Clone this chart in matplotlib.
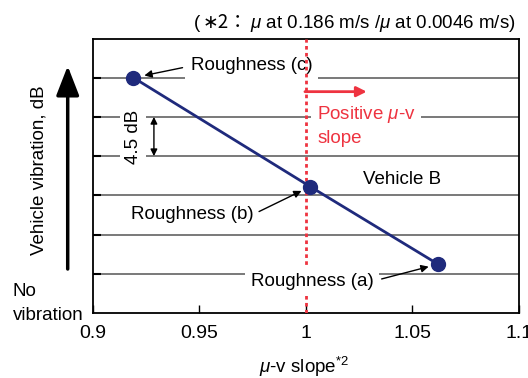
import matplotlib
matplotlib.use("Agg")
import matplotlib.pyplot as plt
from matplotlib.offsetbox import TextArea, HPacker, AnnotationBbox

# ---- data ----
labels = ["Roughness (a)", "Roughness (b)", "Roughness (c)"]
mu_v_slope = [1.062, 1.002, 0.919]
vibration_db = [5.6, 14.5, 27.0]
x_ticks = [0.9, 0.95, 1.0, 1.05, 1.1]
x_tick_labels = ["0.9", "0.95", "1", "1.05", "1.1"]
grid_step_db = 4.5
n_grid = 6

plt.rcParams["font.family"] = ["Liberation Sans", "DejaVu Sans"]
plt.rcParams["mathtext.fontset"] = "custom"
plt.rcParams["mathtext.rm"] = "Liberation Sans"
plt.rcParams["mathtext.it"] = "Liberation Sans:italic"
plt.rcParams["mathtext.bf"] = "Liberation Sans:bold"

FS = 13.5
W, H = 528, 378
fig = plt.figure(figsize=(W / 100, H / 100), dpi=100)
ax = fig.add_axes([93 / W, (H - 313) / H, (519 - 93) / W, (313 - 38.5) / H])

NAVY = "#1f2a7c"
RED = "#ee3340"
GRIDC = "#555555"

ax.set_xlim(0.9, 1.1)
ax.set_ylim(0, grid_step_db * (n_grid + 1))
ax.set_xticks(x_ticks)
ax.set_xticklabels(x_tick_labels, fontsize=14)
yt = [grid_step_db * (i + 1) for i in range(n_grid)]
ax.set_yticks(yt)
ax.set_yticklabels([])
ax.tick_params(axis="x", direction="in", length=6, width=1, pad=9, colors="black")
ax.tick_params(axis="y", direction="in", length=6, width=1.5, colors="black")
for s in ax.spines.values():
    s.set_linewidth(1.3)
for y in yt:
    ax.axhline(y, color=GRIDC, lw=1.1, zorder=0.5)

# red dotted line at slope 1
ax.axvline(1.0, color=RED, lw=2, linestyle=(0, (1.3, 1.2)), zorder=4)

# series
ax.plot(mu_v_slope, vibration_db, color=NAVY, lw=2, marker="o", ms=10,
        markerfacecolor=NAVY, markeredgecolor=NAVY, zorder=6)

bb = dict(boxstyle="square,pad=0.3", fc="white", ec="none")
arr = dict(arrowstyle="-|>", color="black", lw=1, mutation_scale=11, shrinkA=2)

# Roughness (c)
ax.annotate(labels[2], xy=(mu_v_slope[2], vibration_db[2]), xytext=(0.9745, 28.35),
            fontsize=FS, ha="center", va="center", bbox=bb, zorder=3,
            arrowprops=dict(arr, shrinkB=8, relpos=(0, 0.5)))
# Roughness (b)
ax.annotate(labels[1], xy=(mu_v_slope[1], vibration_db[1]), xytext=(0.9467, 11.25),
            fontsize=FS, ha="center", va="center", zorder=3,
            arrowprops=dict(arr, shrinkB=7, relpos=(1, 0.55)))
# Roughness (a)
ax.annotate(labels[0], xy=(mu_v_slope[0], vibration_db[0]), xytext=(1.0028, 3.56),
            fontsize=FS, ha="center", va="center", bbox=bb, zorder=5,
            arrowprops=dict(arr, shrinkB=7, relpos=(1, 0.55)))

ax.text(1.0453, 15.27, "Vehicle B", fontsize=FS, ha="center", va="center", zorder=3)

# positive slope annotation
ax.text(1.0052, 22.73, r"Positive $\mu$-v", color=RED, fontsize=FS, ha="left",
        va="center", zorder=3, bbox=dict(boxstyle="square,pad=0.3", fc="white", ec="none"))
ax.text(1.0052, 20.06, "slope", color=RED, fontsize=FS, ha="left", va="center", zorder=3)
ax.annotate("", xy=(1.0285, 25.4), xytext=(0.9995, 25.4),
            arrowprops=dict(arrowstyle="-|>", color=RED, lw=2, mutation_scale=15,
                            shrinkA=0, shrinkB=0), zorder=4)

# 4.5 dB marker
ax.text(0.9188, 20.2, "4.5 dB", rotation=90, fontsize=FS, ha="center", va="center",
        zorder=3, bbox=dict(boxstyle="square,pad=0.25", fc="white", ec="none"))
ax.annotate("", xy=(0.9286, grid_step_db * 5), xytext=(0.9286, grid_step_db * 4),
            arrowprops=dict(arrowstyle="<|-|>", color="black", lw=1, mutation_scale=10,
                            shrinkA=0, shrinkB=0), zorder=3)

# left outside annotations
fig.text(39 / W, 1 - 170 / H, "Vehicle vibration, dB", rotation=90, fontsize=FS,
         ha="center", va="center")
ax.annotate("", xy=(67.7 / W, 1 - 66 / H), xytext=(67.7 / W, 1 - 269 / H),
            xycoords="figure fraction", textcoords="figure fraction",
            arrowprops=dict(arrowstyle="-|>,head_length=0.9,head_width=0.35", color="black",
                            lw=2.5, mutation_scale=20, shrinkA=0, shrinkB=0),
            annotation_clip=False)
fig.text(13 / W, 1 - 292 / H, "No", fontsize=FS, ha="left", va="center")
fig.text(13 / W, 1 - 315 / H, "vibration", fontsize=FS, ha="left", va="center")

# x label
fig.text(304 / W, 1 - 367 / H, r"$\mu$-v slope$^{\mathrm{*2}}$", fontsize=FS,
         ha="center", va="center")

# title note
t1 = TextArea("(", textprops=dict(fontsize=FS))
t2 = TextArea("\u22172\uff1a", textprops=dict(fontsize=FS,
              family=["Noto Sans CJK JP", "DejaVu Sans"]))
t3 = TextArea(r"$\mu$ at 0.186 m/s /$\mu$ at 0.0046 m/s)", textprops=dict(fontsize=FS))
pack = HPacker(children=[t1, t2, t3], sep=2, pad=0, align="baseline")
ab = AnnotationBbox(pack, (516 / W, 1 - 23 / H), xycoords="figure fraction",
                    box_alignment=(1, 0.5), frameon=False, annotation_clip=False)
ax.add_artist(ab)

fig.savefig("out.png", dpi=100)
